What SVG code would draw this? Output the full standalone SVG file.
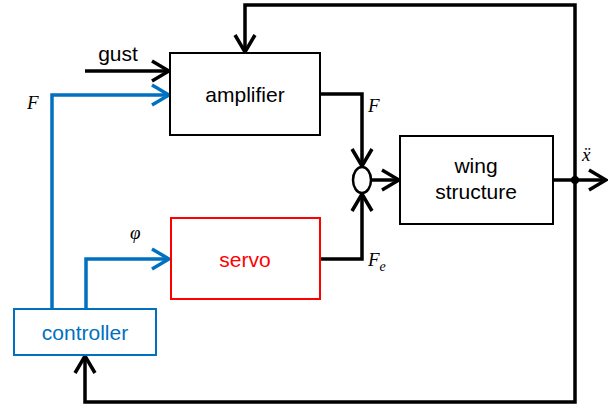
<svg xmlns="http://www.w3.org/2000/svg" width="616" height="412" viewBox="0 0 616 412">
<defs>
<style>
.box{fill:#fff;stroke:#000;stroke-width:2}
.lbl{font-family:"Liberation Sans",Arial,sans-serif;font-size:21px;text-anchor:middle}
.math{font-family:"Liberation Serif","Times New Roman",serif;font-style:italic;font-size:19px}
.k{fill:none;stroke:#000;stroke-width:3.5}
.b{fill:none;stroke:#0070C0;stroke-width:3.5}
</style>
<marker id="ak" markerUnits="userSpaceOnUse" viewBox="-20 -12 22 24" refX="0" refY="0" markerWidth="22" markerHeight="24" orient="auto">
<path d="M-17,-10 L0,0 L-17,10" fill="none" stroke="#000" stroke-width="3.5"/>
</marker>
<marker id="ab" markerUnits="userSpaceOnUse" viewBox="-20 -12 22 24" refX="0" refY="0" markerWidth="22" markerHeight="24" orient="auto">
<path d="M-17,-10 L0,0 L-17,10" fill="none" stroke="#0070C0" stroke-width="3.5"/>
</marker>
</defs>
<g id="connectors">
<path class="k" d="M575,180 L575,5 L245,5 L245,52" marker-end="url(#ak)"/>
<path class="k" d="M85,71 L169,71" marker-end="url(#ak)"/>
<path class="b" d="M52,308 L52,95 L169,95" marker-end="url(#ab)"/>
<path class="b" d="M86,308 L86,259 L169,259" marker-end="url(#ab)"/>
<path class="k" d="M320,94 L362,94 L362,166" marker-end="url(#ak)"/>
<path class="k" d="M320,259 L362,259 L362,194" marker-end="url(#ak)"/>
<path class="k" d="M371,180 L399,180" marker-end="url(#ak)"/>
<path class="k" d="M553,180 L606,180" marker-end="url(#ak)"/>
<path class="k" d="M575,180 L575,402 L85,402 L85,356" marker-end="url(#ak)"/>
<circle cx="575" cy="180" r="4" fill="#000"/>
<ellipse cx="362" cy="180" rx="9" ry="13" fill="#fff" stroke="#000" stroke-width="2.5"/>
</g>
<g id="amplifier">
<rect class="box" x="170" y="53" width="150" height="82"/>
<text class="lbl" x="245" y="102">amplifier</text>
</g>
<g id="wing">
<rect class="box" x="400" y="136" width="153" height="88"/>
<text class="lbl" x="476" y="173">wing</text>
<text class="lbl" x="476" y="199">structure</text>
</g>
<g id="servo">
<rect x="171" y="218" width="149" height="81" fill="#fff" stroke="#FF0000" stroke-width="2"/>
<text class="lbl" x="245" y="267" fill="#FF0000">servo</text>
</g>
<g id="controller">
<rect x="14" y="309" width="142" height="46" fill="#fff" stroke="#0070C0" stroke-width="2"/>
<text class="lbl" x="85" y="340" fill="#0070C0">controller</text>
</g>
<g id="labels">
<text class="lbl" x="118" y="61" font-size="19">gust</text>
<text class="math" x="27" y="109">F</text>
<text class="math" x="130" y="239">φ</text>
<text class="math" x="368" y="112">F</text>
<text class="math" x="368" y="266">F<tspan font-size="14" dy="5">e</tspan></text>
<text class="math" x="582" y="161">ẍ</text>
</g>
</svg>
